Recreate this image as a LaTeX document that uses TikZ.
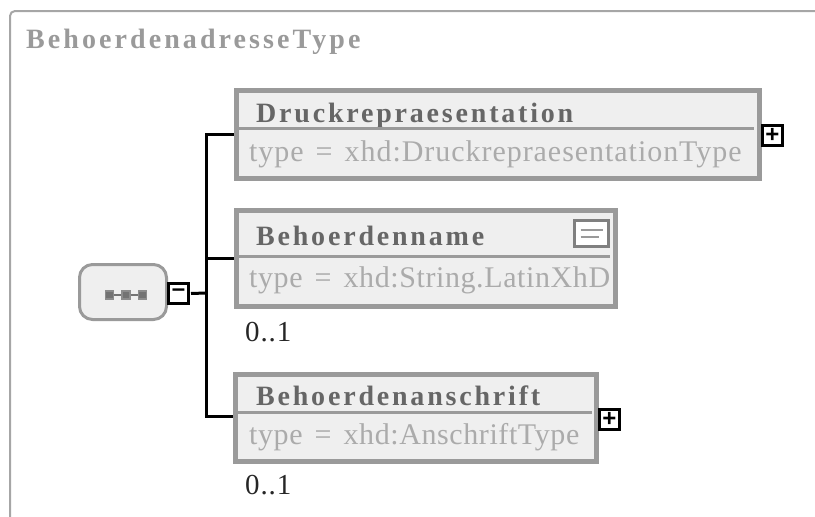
\documentclass[tikz,border=0pt]{standalone}
\usepackage{fontspec}
\setmainfont{Liberation Serif}
\newfontfamily\togglefont{Liberation Sans}
\usepackage{tikz}
\usetikzlibrary{positioning}
\definecolor{borderGray}{HTML}{9A9A9A}
\definecolor{fillGray}{HTML}{EFEFEF}
\definecolor{nameGray}{HTML}{666666}
\definecolor{typeGray}{HTML}{ABABAB}
\newcommand{\typegap}{\hspace{12pt}}
\tikzstyle{element} = [rectangle, draw=borderGray, line width=5pt, fill=fillGray, inner sep=0pt]
\tikzstyle{divider} = [draw=borderGray, line width=3pt]
\tikzstyle{elementname} = [anchor=base west, inner sep=0pt, text=nameGray,
    font=\fontsize{28}{32}\selectfont\bfseries\addfontfeature{LetterSpace=10}]
\tikzstyle{elementtype} = [anchor=base west, inner sep=0pt, text=typeGray,
    font=\fontsize{30}{34}\selectfont\addfontfeature{LetterSpace=2}]
\tikzstyle{occurs} = [anchor=base west, inner sep=0pt, text=black!85,
    font=\fontsize{29}{32}\selectfont\addfontfeature{LetterSpace=3}]
\tikzstyle{toggle} = [rectangle, draw=black, line width=3pt, fill=white, inner sep=0pt,
    minimum size=20pt, font=\togglefont\fontsize{24}{24}\selectfont\bfseries]
\tikzstyle{line} = [draw=black, line width=3pt]
\tikzstyle{seqdot} = [rectangle, draw=black!45, fill=black!55, line width=1.5pt, inner sep=0pt, minimum size=8pt]

\begin{document}
\begin{tikzpicture}[x=1pt, y=-1pt]
      \useasboundingbox (0,0) rectangle (815,517);
      % Frame
      \draw [draw=black!35, line width=2pt, rounded corners=5pt] (815,11) -- (10,11) -- (10,517);
      \node [anchor=base west, inner sep=0pt, text=borderGray,
          font=\fontsize{28}{32}\selectfont\bfseries\addfontfeature{LetterSpace=11}] (title) at (26,48) {BehoerdenadresseType};
      % Elements
      \node [element, minimum width=523pt, minimum height=88pt] (druck) at (498,134.5) {};
      \node [element, minimum width=379pt, minimum height=96pt] (name) at (426,258.5) {};
      \node [element, minimum width=361pt, minimum height=87pt] (anschrift) at (416,418) {};
      \node [elementname] (druck-name) at (256,122) {Druckrepraesentation};
      \node [elementtype, font=\fontsize{30}{34}\selectfont\addfontfeature{LetterSpace=3.2}] (druck-type) at (249,161) {type\typegap=\typegap xhd:DruckrepraesentationType};
      \node [elementname] (name-name) at (256,245) {Behoerdenname};
      \node [elementtype] (name-type) at (249,287) {type\typegap=\typegap xhd:String.LatinXhD};
      \node [elementname] (anschrift-name) at (256,405) {Behoerdenanschrift};
      \node [elementtype] (anschrift-type) at (249,444) {type\typegap=\typegap xhd:AnschriftType};
      \node [occurs] (name-occurs) at (245,341) {0..1};
      \node [occurs] (anschrift-occurs) at (245,494) {0..1};
      % Dividers
      \path [divider] (druck.west |- 0,128) -- (754,128);
      \path [divider] (name.west |- 0,256) -- (610,256);
      \path [divider] (anschrift.west |- 0,412) -- (592,412);
      % Note icon
      \node [rectangle, draw=black!50, line width=3pt, fill=white, inner sep=0pt,
          minimum width=34pt, minimum height=26pt] (note) at (591.5,233.5) {};
      \draw [draw=borderGray, line width=2pt] ([xshift=-11pt,yshift=3.5pt]note.center) -- ([xshift=11pt,yshift=3.5pt]note.center);
      \draw [draw=borderGray, line width=2pt] ([xshift=-11pt,yshift=-3.5pt]note.center) -- ([xshift=7pt,yshift=-3.5pt]note.center);
      % Sequence
      \node [rectangle, rounded corners=13pt, draw=borderGray, line width=3pt, fill=fillGray,
          minimum width=87pt, minimum height=55pt] (seq) at (123,292) {};
      \node [seqdot] (dot1) at (109.5,295) {};
      \node [seqdot] (dot2) at (126,295) {};
      \node [seqdot] (dot3) at (142.5,295) {};
      \draw [draw=black!55, line width=1.5pt] (dot1) -- (dot2);
      \draw [draw=black!55, line width=1.5pt] (dot2) -- (dot3);
      % Toggles
      \node [toggle, right=-1pt of seq, yshift=-1.5pt] (minus) {\raisebox{1pt}{\textendash}};
      \node [toggle, right=-1pt of druck, yshift=-1pt] (plus1) {+};
      \node [toggle, right=-1pt of anschrift, yshift=-1.5pt] (plus2) {+};
      % Draw edges
      \coordinate (trunk) at (206,293);
      \path [line] ([xshift=1pt]minus.east) -- (trunk);
      \path [line] (trunk) |- (druck.west);
      \path [line] (trunk) |- (name.west);
      \path [line] (trunk) |- ([yshift=2pt]anschrift.west);
\end{tikzpicture}
\end{document}
